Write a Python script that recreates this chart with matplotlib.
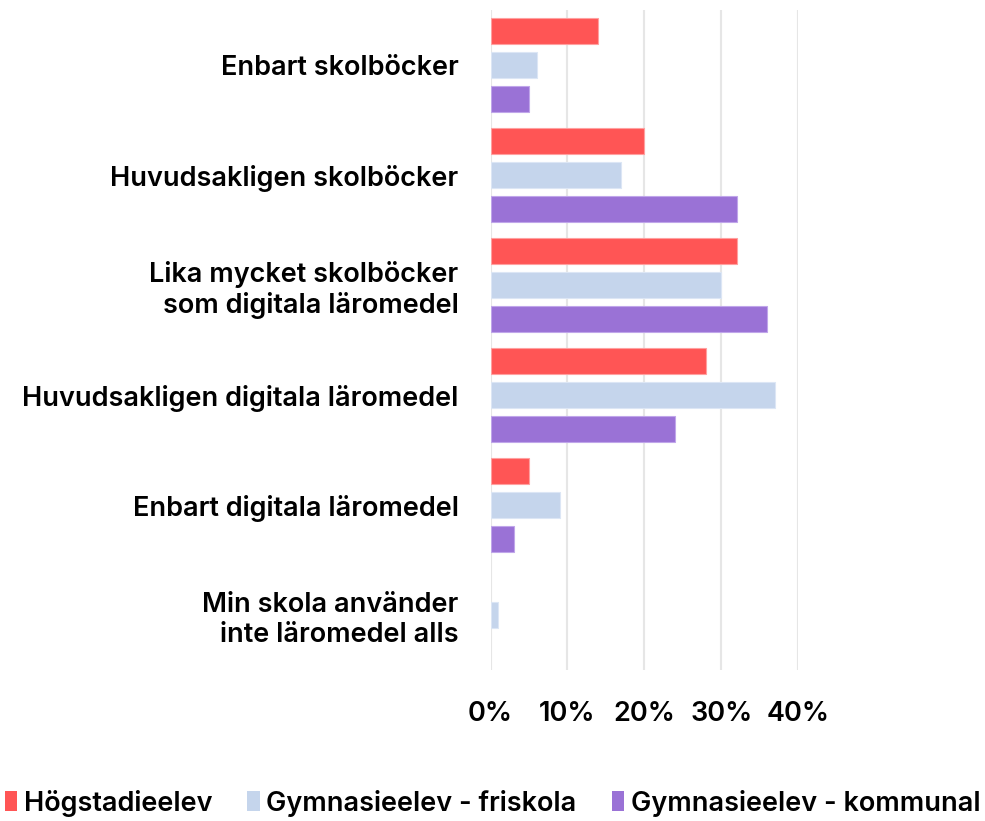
import matplotlib
matplotlib.use("Agg")
import matplotlib.pyplot as plt
from matplotlib.patches import Patch
import numpy as np

categories = ["Enbart skolböcker", "Huvudsakligen skolböcker",
              "Lika mycket skolböcker\nsom digitala läromedel",
              "Huvudsakligen digitala läromedel", "Enbart digitala läromedel",
              "Min skola använder\ninte läromedel alls"]
series_names = ["Högstadieelev", "Gymnasieelev - friskola", "Gymnasieelev - kommunal"]
hogstadie = [14, 20, 32, 28, 5, 0]
friskola = [6, 17, 30, 37, 9, 1]
kommunal = [5, 32, 36, 24, 3, 0]
xticks = [0, 10, 20, 30, 40]
xticklabels = ["0%", "10%", "20%", "30%", "40%"]

colors = ["#FF5555", "#C5D5EC", "#9A72D6"]
edges = ["#FFA0A0", "#DCE6F5", "#C0A6EA"]

plt.rcParams['font.family'] = ['Inter', 'DejaVu Sans']
FS = 19.5
W = 'semibold'

fig = plt.figure(figsize=(9.85, 8.21), dpi=100)
ax = fig.add_axes([490.5/985, 1 - 670/821, (798-490.5)/985, 660/821])

y = np.arange(len(categories))
h = 0.245
off = 0.309
for i, (vals, c, e, name) in enumerate(zip([hogstadie, friskola, kommunal], colors, edges, series_names)):
    lw = [0.8 if v > 0 else 0 for v in vals]
    ax.barh(y + (i - 1) * off, vals, height=h, color=c, edgecolor=e, linewidth=lw, label=name, zorder=3)

ax.set_ylim(len(categories) - 0.5, -0.5)
ax.set_xlim(0, 40)
ax.set_xticks(xticks)
ax.set_xticklabels(xticklabels)
ax.set_yticks(y)
ax.set_yticklabels(categories, ha='right', linespacing=1.2)
ax.tick_params(axis='both', length=0, labelsize=FS)
ax.tick_params(axis='y', pad=23)
ax.tick_params(axis='x', pad=22)
for lbl in ax.get_yticklabels() + ax.get_xticklabels():
    lbl.set_fontweight(W)
ax.grid(axis='x', color='#E6E6E6', linewidth=1.5, zorder=0)
for s in ax.spines.values():
    s.set_visible(False)

handles = [Patch(facecolor=c, edgecolor='none') for c in colors]
fig.legend(handles, series_names, loc='center', bbox_to_anchor=(0.5, 1 - 803/821), ncol=3,
           frameon=False, prop={'weight': W, 'size': FS},
           handlelength=0.45, handleheight=0.8, handletextpad=0.25, columnspacing=1.3)

fig.savefig("out.png", dpi=100)
